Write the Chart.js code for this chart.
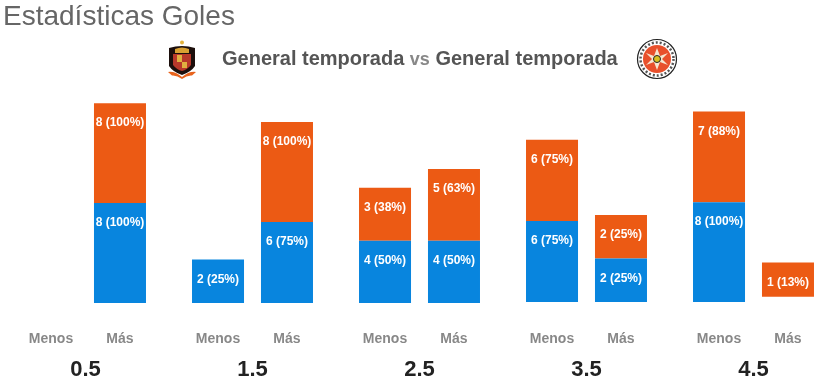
<!DOCTYPE html>
<html>
<head>
<meta charset="utf-8">
<script src="https://cdn.jsdelivr.net/npm/chart.js@4/dist/chart.umd.min.js"></script>
<style>
html,body{margin:0;padding:0;background:#fff;width:838px;height:383px;overflow:hidden;font-family:"Liberation Sans",Arial,sans-serif}
#wrap{position:absolute;left:0;top:0;width:838px;height:383px}
#title{position:absolute;left:3px;top:0;font-size:28px;line-height:32px;color:#666;white-space:nowrap}
#vs{position:absolute;left:222px;top:46px;font-size:20px;line-height:24px;font-weight:bold;color:#555;white-space:nowrap}
#vs span{color:#888;font-size:18px}
.crest{position:absolute}
</style>
</head>
<body>
<div id="wrap"><canvas id="c" width="838" height="383"></canvas></div>
<div id="title">Estadísticas Goles</div>
<svg class="crest" style="left:167px;top:40px" width="30" height="39" viewBox="0 0 30 39">
  <circle cx="15" cy="2.5" r="2" fill="#e3b23c"/>
  <path d="M2 8 Q15 4 28 8 L28 26 Q24 32 15 35 Q6 32 2 26Z" fill="#1c0f0c"/>
  <path d="M8 9 Q15 6 22 9 L22 13 L8 13Z" fill="#d9a032"/>
  <path d="M6 14 H24 V25 Q20 30 15 31 Q10 30 6 25Z" fill="#b8382a"/>
  <rect x="10" y="15" width="5" height="7" fill="#e0b040"/>
  <rect x="15" y="22" width="5" height="6" fill="#e0b040"/>
  <path d="M1 32 Q8 31 15 37 Q22 31 29 32 L25 35.500 Q20 35 15 39 Q10 35 5 35.500Z" fill="#e8631c"/>
</svg>
<svg class="crest" style="left:636px;top:38px" width="42" height="42" viewBox="0 0 42 42">
  <circle cx="21" cy="21" r="19.500" fill="#fff" stroke="#222" stroke-width="1.200"/>
  <circle cx="21" cy="21" r="16.500" fill="none" stroke="#555" stroke-width="2.500" stroke-dasharray="2 2"/>
  <circle cx="21" cy="21" r="14" fill="#e8502c"/>
  <path d="M21 10 L24 18 L32 15 L26 21 L32 27 L24 24 L21 32 L18 24 L10 27 L16 21 L10 15 L18 18Z" fill="#f6e6d0"/>
  <circle cx="21" cy="21" r="3.500" fill="#d8c020" stroke="#222"/>
</svg>
<div id="vs">General temporada <span>vs</span> General temporada</div>
<script>
// counts
const lines=['0.5','1.5','2.5','3.5','4.5'];
const sides=['Menos','Más'];
const blueMenos=[0,2,4,6,8];
const blueMas=[8,6,4,2,0];
const orangeMenos=[0,0,3,6,7];
const orangeMas=[8,8,5,2,1];
const bluePctMenos=[0,25,50,75,100];
const bluePctMas=[100,75,50,25,0];
const orangePctMenos=[0,0,38,75,88];
const orangePctMas=[100,100,63,25,13];
// empty space under the bars, same units
const gapMenos=[0,0,0,0.1,0.1];
const gapMas=[0,0,0,0.1,0.67];
// the site gives every non empty bar a minimum height
const BAR_BASE=2.63;
const BLUE='#0885DE',ORANGE='#EC5A14';

const tall=a=>a.map(v=>v>0?v+BAR_BASE:0);
function ds(label,stack,counts,pcts,color){
  return{label,stack,data:tall(counts),counts,pcts,backgroundColor:color,borderWidth:0,barPercentage:.754,categoryPercentage:.826};
}
function gap(stack,data){
  return{label:'gap',stack,data,backgroundColor:'rgba(0,0,0,0)',borderWidth:0,barPercentage:.754,categoryPercentage:.826};
}

const labelsPlugin={
  id:'barLabels',
  afterDatasetsDraw(chart){
    const ctx=chart.ctx;ctx.save();
    ctx.textAlign='center';ctx.textBaseline='middle';
    chart.data.datasets.forEach((d,i)=>{
      if(!d.counts)return;
      chart.getDatasetMeta(i).data.forEach((el,j)=>{
        if(!d.counts[j])return;
        ctx.fillStyle='#fff';ctx.font='bold 12px "Liberation Sans",Arial,sans-serif';
        ctx.fillText(d.counts[j]+' ('+d.pcts[j]+'%)',el.x,el.y+20);
      });
    });
    // Menos / Más under each stack
    const a=chart.getDatasetMeta(0).data,b=chart.getDatasetMeta(3).data;
    ctx.fillStyle='#888';ctx.font='bold 14px "Liberation Sans",Arial,sans-serif';
    lines.forEach((_,j)=>{
      ctx.fillText(sides[0],a[j].x,339);
      ctx.fillText(sides[1],b[j].x,339);
    });
    ctx.restore();
  }
};

new Chart(document.getElementById('c'),{
  type:'bar',
  data:{labels:lines,datasets:[
    gap('Menos',gapMenos),
    ds('Menos azul','Menos',blueMenos,bluePctMenos,BLUE),
    ds('Menos naranja','Menos',orangeMenos,orangePctMenos,ORANGE),
    gap('Más',gapMas),
    ds('Más azul','Más',blueMas,bluePctMas,BLUE),
    ds('Más naranja','Más',orangeMas,orangePctMas,ORANGE)
  ]},
  options:{
    responsive:false,animation:false,
    layout:{padding:{left:2,right:1,top:90,bottom:0}},
    plugins:{legend:{display:false},tooltip:{enabled:false},title:{display:false}},
    scales:{
      x:{stacked:true,grid:{display:false},border:{display:false},
        afterFit:s=>{s.height=80},
        ticks:{color:'#222',font:{size:22,weight:'bold',family:'"Liberation Sans",Arial,sans-serif'},padding:46,maxRotation:0}},
      y:{stacked:true,display:false,min:0,max:22.66}
    }
  },
  plugins:[labelsPlugin]
});
</script>
</body>
</html>
